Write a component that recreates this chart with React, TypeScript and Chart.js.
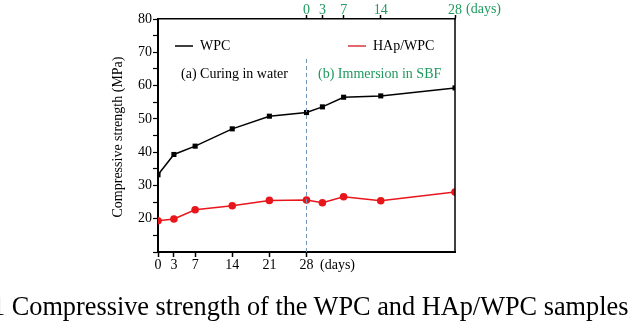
import React, { useEffect, useRef } from "react";
import { Chart, registerables } from "chart.js";

Chart.register(...registerables);

// x positions (days on a continuous axis: 0-28 water curing, 28-56 SBF immersion)
const daysAxis = [0, 3, 7, 14, 21, 28, 31, 35, 42, 56];
const wpcValues = [33.2, 39.3, 41.8, 47.0, 50.8, 51.9, 53.6, 56.5, 56.9, 59.3];
const hapValues = [19.4, 19.9, 22.7, 23.9, 25.5, 25.6, 24.8, 26.6, 25.4, 28.0];
const bottomTicks = [0, 3, 7, 14, 21, 28];
const topTicks = [28, 31, 35, 42, 56];
const topTickOffset = 28;
const yMin = 10;
const yMax = 80;

const SERIF = "'Liberation Serif', 'DejaVu Serif', serif";
const GREEN = "#1f9a5e";
const RED = "#e8161b";

export default function App() {
  const ref = useRef<HTMLCanvasElement | null>(null);

  useEffect(() => {
    document.body.style.margin = "0";
    const canvas = ref.current;
    if (!canvas) return;

    const overlay = {
      id: "overlay",
      afterDraw(chart: any) {
        const ctx = chart.ctx;
        const x = chart.scales.x;
        const y = chart.scales.y;
        const area = chart.chartArea;
        ctx.save();
        // right border
        ctx.strokeStyle = "#000";
        ctx.lineWidth = 1.5;
        ctx.beginPath();
        ctx.moveTo(area.right, area.top);
        ctx.lineTo(area.right, area.bottom);
        ctx.stroke();

        // dashed divider at day 28
        const xd = x.getPixelForValue(28);
        ctx.strokeStyle = "#6f93b8";
        ctx.lineWidth = 1;
        ctx.setLineDash([4, 3]);
        ctx.beginPath();
        ctx.moveTo(xd, y.getPixelForValue(68));
        ctx.lineTo(xd, area.bottom);
        ctx.stroke();
        ctx.setLineDash([]);

        // legend
        ctx.font = `14px ${SERIF}`;
        ctx.textBaseline = "middle";
        ctx.textAlign = "left";
        const ly = 46;
        ctx.lineWidth = 1.5;
        ctx.strokeStyle = "#000";
        ctx.beginPath();
        ctx.moveTo(175, ly);
        ctx.lineTo(193, ly);
        ctx.stroke();
        ctx.fillStyle = "#000";
        ctx.fillText("WPC", 200, ly);
        ctx.strokeStyle = "#d9363e";
        ctx.beginPath();
        ctx.moveTo(348, ly);
        ctx.lineTo(366, ly);
        ctx.stroke();
        ctx.fillText("HAp/WPC", 373, ly);

        // phase annotations
        ctx.fillStyle = "#000";
        ctx.fillText("(a) Curing in water", 181, 74);
        ctx.fillStyle = GREEN;
        ctx.fillText("(b) Immersion in SBF", 318, 74);

        // units
        ctx.fillStyle = "#000";
        ctx.fillText("(days)", 320, 265);
        ctx.fillStyle = GREEN;
        ctx.fillText("(days)", 466, 9);

        // y title
        ctx.fillStyle = "#000";
        ctx.translate(118, 137);
        ctx.rotate(-Math.PI / 2);
        ctx.textAlign = "center";
        ctx.fillText("Compressive strength (MPa)", 0, 0);
        ctx.restore();
      },
    };

    const chart = new Chart(canvas, {
      type: "line",
      data: {
        datasets: [
          {
            label: "WPC",
            data: daysAxis.map((d, i) => ({ x: d, y: wpcValues[i] })),
            borderColor: "#000",
            backgroundColor: "#000",
            borderWidth: 1.5,
            pointStyle: "rect",
            pointRadius: 3.6,
            pointBorderWidth: 0,
            xAxisID: "x",
          },
          {
            label: "HAp/WPC",
            data: daysAxis.map((d, i) => ({ x: d, y: hapValues[i] })),
            borderColor: RED,
            backgroundColor: RED,
            borderWidth: 1.5,
            pointStyle: "circle",
            pointRadius: 3.8,
            pointBorderWidth: 0,
            xAxisID: "x",
          },
        ],
      },
      options: {
        animation: false,
        responsive: false,
        maintainAspectRatio: false,
        layout: { padding: { left: 0, right: 178, top: 0, bottom: 0 } },
        plugins: { legend: { display: false }, tooltip: { enabled: false } },
        scales: {
          x: {
            type: "linear",
            position: "bottom",
            min: 0,
            max: 56,
            afterBuildTicks: (s: any) => {
              s.ticks = bottomTicks.map((v) => ({ value: v }));
            },
            afterFit: (s: any) => {
              s.height = 77;
            },
            ticks: {
              autoSkip: false,
              maxRotation: 0,
              color: "#000",
              font: { family: SERIF, size: 14 },
              padding: 0,
            },
            grid: { drawOnChartArea: false, drawTicks: true, tickLength: 5, color: "#000", tickWidth: 1.5 },
            border: { display: true, color: "#000", width: 2 },
          },
          x2: {
            type: "linear",
            position: "top",
            min: 0,
            max: 56,
            afterBuildTicks: (s: any) => {
              s.ticks = topTicks.map((v) => ({ value: v }));
            },
            afterFit: (s: any) => {
              s.height = 19;
            },
            ticks: {
              autoSkip: false,
              maxRotation: 0,
              color: GREEN,
              font: { family: SERIF, size: 14 },
              padding: -4,
              callback: (v: any) => String(Number(v) - topTickOffset),
            },
            grid: { drawOnChartArea: false, drawTicks: true, tickLength: 4, color: "#000", tickWidth: 1.5 },
            border: { display: true, color: "#000", width: 1.5 },
          },
          y: {
            type: "linear",
            position: "left",
            min: yMin,
            max: yMax,
            afterFit: (s: any) => {
              s.width = 158;
            },
            ticks: {
              stepSize: 5,
              autoSkip: false,
              color: "#000",
              font: { family: SERIF, size: 14 },
              padding: 1,
              callback: (v: any) => (Number(v) % 10 === 0 && Number(v) >= 20 ? String(v) : ""),
            },
            grid: {
              drawOnChartArea: false,
              drawTicks: true,
              tickLength: 5,
              color: "#000",
              tickWidth: 1.2,
            },
            border: { display: true, color: "#000", width: 2 },
          },
        },
      },
      plugins: [overlay],
    });

    return () => chart.destroy();
  }, []);

  return (
    <div style={{ position: "relative", width: 633, height: 329, overflow: "hidden", background: "#fff" }}>
      <canvas ref={ref} width={633} height={329} style={{ position: "absolute", left: 0, top: 0 }} />
      <div
        style={{
          position: "absolute",
          left: -8,
          top: 292,
          whiteSpace: "nowrap",
          fontFamily: SERIF,
          fontSize: 26.3,
          lineHeight: "30px",
          color: "#000",
        }}
      >
        1 Compressive strength of the WPC and HAp/WPC samples
      </div>
    </div>
  );
}
